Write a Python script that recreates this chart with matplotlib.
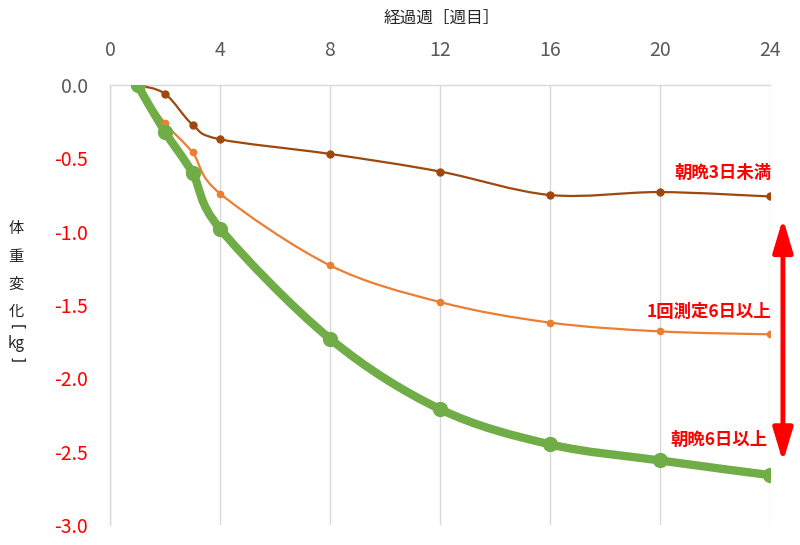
import numpy as np
import matplotlib
matplotlib.use('Agg')
import matplotlib.pyplot as plt
from matplotlib.path import Path
from matplotlib.patches import PathPatch

plt.rcParams['font.family'] = ['Noto Sans CJK JP', 'DejaVu Sans']

# weeks elapsed
weeks = [1, 2, 3, 4, 8, 12, 16, 20, 24]
# weight change [kg]
lt3_days = [0.0, -0.06, -0.27, -0.37, -0.47, -0.59, -0.75, -0.73, -0.76]
once_6days = [0.0, -0.26, -0.46, -0.74, -1.23, -1.48, -1.62, -1.68, -1.70]
twice_6days = [0.0, -0.32, -0.60, -0.98, -1.73, -2.21, -2.45, -2.56, -2.66]

x_ticks = [0, 4, 8, 12, 16, 20, 24]
y_ticks = [0.0, -0.5, -1.0, -1.5, -2.0, -2.5, -3.0]

GREEN = '#70AD47'
ORANGE = '#ED7D31'
BROWN = '#9E480E'
RED = '#FF0000'
GRAY = '#595959'


def smooth_path(xs, ys):
    # excel-like smoothed line: cubic bezier through every point
    pts = np.column_stack([xs, ys]).astype(float)
    verts = [pts[0]]
    codes = [Path.MOVETO]
    n = len(pts)
    for i in range(n - 1):
        p0 = pts[i - 1] if i > 0 else pts[i]
        p1 = pts[i]
        p2 = pts[i + 1]
        p3 = pts[i + 2] if i + 2 < n else pts[i + 1]
        c1 = p1 + (p2 - p0) / 6.0
        c2 = p2 - (p3 - p1) / 6.0
        verts += [c1, c2, p2]
        codes += [Path.CURVE4] * 3
    return Path(verts, codes)


def draw_series(ax, ys, color, lw, ms):
    ax.add_patch(PathPatch(smooth_path(weeks, ys), facecolor='none',
                           edgecolor=color, lw=lw, capstyle='round',
                           joinstyle='round', zorder=3))
    ax.plot(weeks, ys, 'o', color=color, ms=ms, zorder=4)


fig = plt.figure(figsize=(8, 5.45), dpi=100)
ax = fig.add_axes([110 / 800, 1 - 525 / 545, 660 / 800, 440 / 545])

draw_series(ax, lt3_days, BROWN, 1.6, 5)
draw_series(ax, once_6days, ORANGE, 1.6, 4.5)
draw_series(ax, twice_6days, GREEN, 6, 10)

ax.set_xlim(0, 24)
ax.set_ylim(-3.0, 0.0)
ax.xaxis.tick_top()
ax.set_xticks(x_ticks)
ax.set_yticks(y_ticks)
ax.set_xticklabels([str(t) for t in x_ticks])
ax.set_yticklabels(['%.1f' % t for t in y_ticks])
ax.tick_params(axis='x', length=0, pad=17, labelsize=14, labelcolor=GRAY)
ax.tick_params(axis='y', length=0, pad=16, labelsize=14)
for lab in ax.get_yticklabels():
    lab.set_color(GRAY if lab.get_text() == '0.0' else RED)

ax.grid(axis='x', color='#D9D9D9', lw=1)
for side in ['right', 'bottom']:
    ax.spines[side].set_visible(False)
for side in ['left', 'top']:
    ax.spines[side].set_color('#D9D9D9')
    ax.spines[side].set_linewidth(1)

fig.text(442 / 800, 1 - 18 / 545, '経過週［週目］', fontsize=12,
         ha='center', va='center', color='#262626')

# vertical y label
ylab = [('体', 228), ('重', 256), ('変', 284), ('化', 311)]
for ch, yy in ylab:
    fig.text(16 / 800, 1 - yy / 545, ch, fontsize=11, ha='center',
             va='center', color='#262626')
fig.text(16 / 800, 1 - 327 / 545, '[', fontsize=11, family='DejaVu Sans',
         rotation=-90, ha='center', va='center', color='#262626')
fig.text(16 / 800, 1 - 343 / 545, 'kg', fontsize=11, ha='center',
         va='center', color='#262626')
fig.text(16 / 800, 1 - 360 / 545, ']', fontsize=11, family='DejaVu Sans',
         rotation=-90, ha='center', va='center', color='#262626')

ax.text(24.05, -0.6, '朝晩3日未満', color=RED, fontsize=12.5,
        fontweight='bold', ha='right', va='center')
ax.text(24.05, -1.55, '1回測定6日以上', color=RED, fontsize=12.5,
        fontweight='bold', ha='right', va='center')
ax.text(23.9, -2.42, '朝晩6日以上', color=RED, fontsize=12.5,
        fontweight='bold', ha='right', va='center')

ax.annotate('', xy=(24.47, -0.91), xytext=(24.47, -2.57),
            annotation_clip=False,
            arrowprops=dict(arrowstyle='<|-|>,head_length=1.0,head_width=0.3',
                            color=RED, lw=3.5, mutation_scale=20,
                            shrinkA=0, shrinkB=0))

fig.savefig('out.png', dpi=100)
